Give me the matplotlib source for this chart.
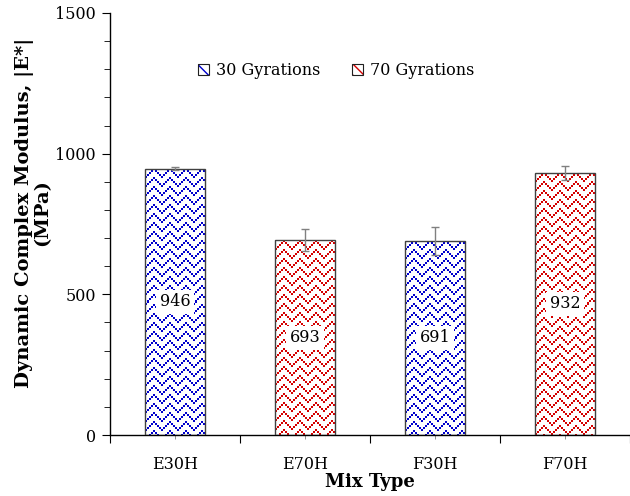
import numpy as np
import matplotlib
matplotlib.use("Agg")
import matplotlib.pyplot as plt
from matplotlib.patches import Rectangle

# Data
mixes = ["E30H", "E70H", "F30H", "F70H"]
modulus = [946, 693, 691, 932]
errors = [5, 40, 50, 25]
gyrations = ["30 Gyrations", "70 Gyrations", "30 Gyrations", "70 Gyrations"]
series_names = ["30 Gyrations", "70 Gyrations"]
series_colors = {"30 Gyrations": "#0000CC", "70 Gyrations": "#D40000"}

plt.rcParams["font.family"] = ["DejaVu Serif"]

fig = plt.figure(figsize=(6.30, 4.96), dpi=100)
ax = fig.add_axes([110 / 630, 61 / 496, 520 / 630, 422 / 496])

x = np.arange(len(mixes))
ax.set_xlim(-0.5, len(mixes) - 0.5)
ax.set_ylim(0, 1500)


def zigzag_tile(h, w, color, period=16, spacing=9, step=2, dot=2):
    """Dotted chevron fill, built pixel by pixel."""
    rgb = np.array(matplotlib.colors.to_rgb(color))
    img = np.ones((h, w, 3))
    half = period // 2
    for j0 in range(0, w, step):
        tri = abs(j0 % period - half)
        for y in range(tri - spacing * 2, h, spacing):
            ya, yb = max(y, 0), min(y + dot, h)
            if yb > ya:
                img[ya:yb, j0:j0 + dot] = rgb
    return img


bars = ax.bar(x, modulus, width=0.46, facecolor="none",
              edgecolor="#404040", linewidth=1.0, zorder=3)

for bar, g in zip(bars, gyrations):
    x0, y0 = bar.get_x(), bar.get_y()
    x1, y1 = x0 + bar.get_width(), y0 + bar.get_height()
    (px0, py0), (px1, py1) = ax.transData.transform([(x0, y0), (x1, y1)])
    w = max(int(round(px1 - px0)), 1)
    h = max(int(round(py1 - py0)), 1)
    im = ax.imshow(zigzag_tile(h, w, series_colors[g]), extent=(x0, x1, y0, y1),
                   origin="upper", interpolation="nearest", aspect="auto", zorder=2)
    im.set_clip_path(bar)

ax.set_xlim(-0.5, len(mixes) - 0.5)
ax.set_ylim(0, 1500)

ax.errorbar(x, modulus, yerr=errors, fmt="none", ecolor="#808080",
            elinewidth=1.0, capsize=3, capthick=1.0, zorder=4)

for xi, v in zip(x, modulus):
    ax.text(xi, v / 2, f"{v}", ha="center", va="center", fontsize=11.5,
            zorder=5, bbox=dict(facecolor="white", edgecolor="none", pad=2.5))

# Axes styling
for side in ("top", "right"):
    ax.spines[side].set_visible(False)
ax.spines["left"].set_linewidth(1.0)
ax.spines["bottom"].set_linewidth(1.0)

ax.set_yticks([0, 500, 1000, 1500])
ax.set_yticks(np.arange(0, 1501, 100), minor=True)
ax.tick_params(axis="y", which="major", direction="out", length=6, labelsize=11.5, pad=4)
ax.tick_params(axis="y", which="minor", direction="out", length=4)

ax.set_xticks(np.arange(-0.5, len(mixes) + 0.5, 1.0))
ax.set_xticklabels([])
ax.set_xticks(x, minor=True)
ax.set_xticklabels(mixes, minor=True)
ax.tick_params(axis="x", which="major", direction="out", length=6)
ax.tick_params(axis="x", which="minor", direction="out", length=3, color="#808080",
               labelsize=11.5, pad=12)

ax.set_xlabel("Mix Type", fontsize=13, fontweight="bold", labelpad=0)
ax.set_ylabel("Dynamic Complex Modulus, |E*|\n(MPa)", fontsize=14,
              fontweight="bold", linespacing=0.88)
ax.yaxis.set_label_coords(-0.114, 0.526)

# Legend with hatched swatches
handles = []
for name in series_names:
    col = series_colors[name]
    swatch = Rectangle((0, 0), 1, 1, facecolor="white", edgecolor=col,
                       hatch="\\\\\\", linewidth=0)
    frame = Rectangle((0, 0), 1, 1, facecolor="none", edgecolor="#202020", linewidth=0.8)
    handles.append((swatch, frame))
ax.legend(handles, series_names, loc="upper center", bbox_to_anchor=(0.435, 0.917),
          ncol=2, frameon=False, fontsize=11.5, handlelength=0.7, handleheight=0.7,
          handletextpad=0.4, columnspacing=2.0)

fig.savefig("out.png", dpi=100)
